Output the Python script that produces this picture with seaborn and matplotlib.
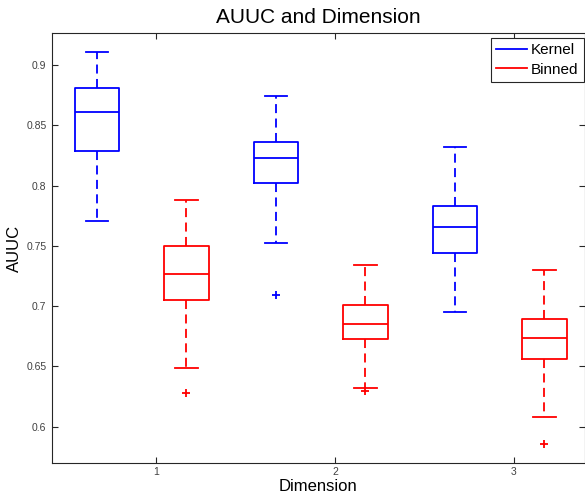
import matplotlib
matplotlib.use("Agg")
import matplotlib.pyplot as plt
from matplotlib.lines import Line2D
import seaborn as sns
import pandas as pd

# ---- data ----
dims = [1, 2, 3]
methods = ["Kernel", "Binned"]
kernel_low = [0.771, 0.752, 0.695]
kernel_q1 = [0.829, 0.802, 0.744]
kernel_med = [0.861, 0.823, 0.766]
kernel_q3 = [0.881, 0.836, 0.783]
kernel_high = [0.911, 0.874, 0.832]
kernel_out = [None, 0.709, None]
binned_low = [0.649, 0.632, 0.608]
binned_q1 = [0.705, 0.673, 0.656]
binned_med = [0.727, 0.685, 0.674]
binned_q3 = [0.750, 0.701, 0.689]
binned_high = [0.788, 0.734, 0.730]
binned_out = [0.628, 0.630, 0.586]

offsets = {"Kernel": -0.33, "Binned": 0.17}
colors = {"Kernel": "#0000ff", "Binned": "#ff0000"}

summary = {
    "Kernel": (kernel_low, kernel_q1, kernel_med, kernel_q3, kernel_high, kernel_out),
    "Binned": (binned_low, binned_q1, binned_med, binned_q3, binned_high, binned_out),
}

rows = []
for m in methods:
    lo, q1, md, q3, hi, out = summary[m]
    for i, d in enumerate(dims):
        # 9 samples whose quartiles / whiskers reproduce the summary
        first = out[i] if out[i] is not None else lo[i]
        sample = [first, lo[i], q1[i], q1[i], md[i], q3[i], q3[i], hi[i], hi[i]]
        for v in sample:
            rows.append({"pos": d + offsets[m], "AUUC": v, "method": m})
df = pd.DataFrame(rows)

# ---- figure ----
fig = plt.figure(figsize=(5.85, 4.98), dpi=100)
ax = fig.add_axes([52 / 585, 35 / 498, 1 - 52 / 585, 430 / 498])

sns.boxplot(
    data=df, x="pos", y="AUUC", hue="method", palette=colors,
    native_scale=True, dodge=False, fill=False, width=0.5,
    linewidth=1.3, whis=1.5, legend=False, ax=ax,
    whiskerprops={"linestyle": (0, (5, 3))},
    flierprops={"marker": "+", "markersize": 6, "markeredgewidth": 1.3},
)

# colour fliers per method
for line in ax.lines:
    if line.get_marker() == "+":
        xs = line.get_xdata()
        if len(xs):
            x0 = xs[0]
            m = "Kernel" if abs((x0 - offsets["Kernel"]) - round(x0 - offsets["Kernel"])) < 1e-6 else "Binned"
            line.set_markeredgecolor(colors[m])
            line.set_color(colors[m])

ax.set_xlim(0.419, 3.397)
ax.set_ylim(0.5699, 0.9266)
ax.set_xticks(dims)
ax.set_xticklabels([str(d) for d in dims])
ax.set_yticks([0.6, 0.65, 0.7, 0.75, 0.8, 0.85, 0.9])
ax.set_yticklabels(["0.6", "0.65", "0.7", "0.75", "0.8", "0.85", "0.9"])

tick_font = "Liberation Sans"
ax.tick_params(direction="in", top=True, right=True, length=4, width=0.8,
               labelsize=7.5, labelcolor="#404040", color="#262626", pad=4)
ax.tick_params(axis="x", pad=3)
for lab in ax.get_xticklabels() + ax.get_yticklabels():
    lab.set_fontfamily(tick_font)
for sp in ax.spines.values():
    sp.set_color("#262626")
    sp.set_linewidth(0.8)

ax.set_xlabel("Dimension", fontsize=12, family=tick_font)
ax.set_ylabel("AUUC", fontsize=12, family=tick_font)
ax.xaxis.set_label_coords(0.5, (463 - 479) / 430)
ax.yaxis.set_label_coords((22 - 52) / 533, 0.5)
ax.set_title("AUUC and Dimension", fontsize=15, family=tick_font, pad=7)

handles = [Line2D([0], [0], color=colors[m], lw=1.3) for m in methods]
leg = ax.legend(handles, methods, loc="upper right", fancybox=False,
                framealpha=1, edgecolor="#262626",
                bbox_to_anchor=(1.0, 1.0), bbox_transform=fig.transFigure,
                borderaxespad=0.0,
                prop={"family": tick_font, "size": 11}, handlelength=2.0,
                handletextpad=0.3, borderpad=0.35, labelspacing=0.35)
leg.set_bbox_to_anchor((584 / 585, 1 - 38 / 498), transform=fig.transFigure)
leg.get_frame().set_linewidth(0.8)

fig.savefig("out.png", dpi=100)
